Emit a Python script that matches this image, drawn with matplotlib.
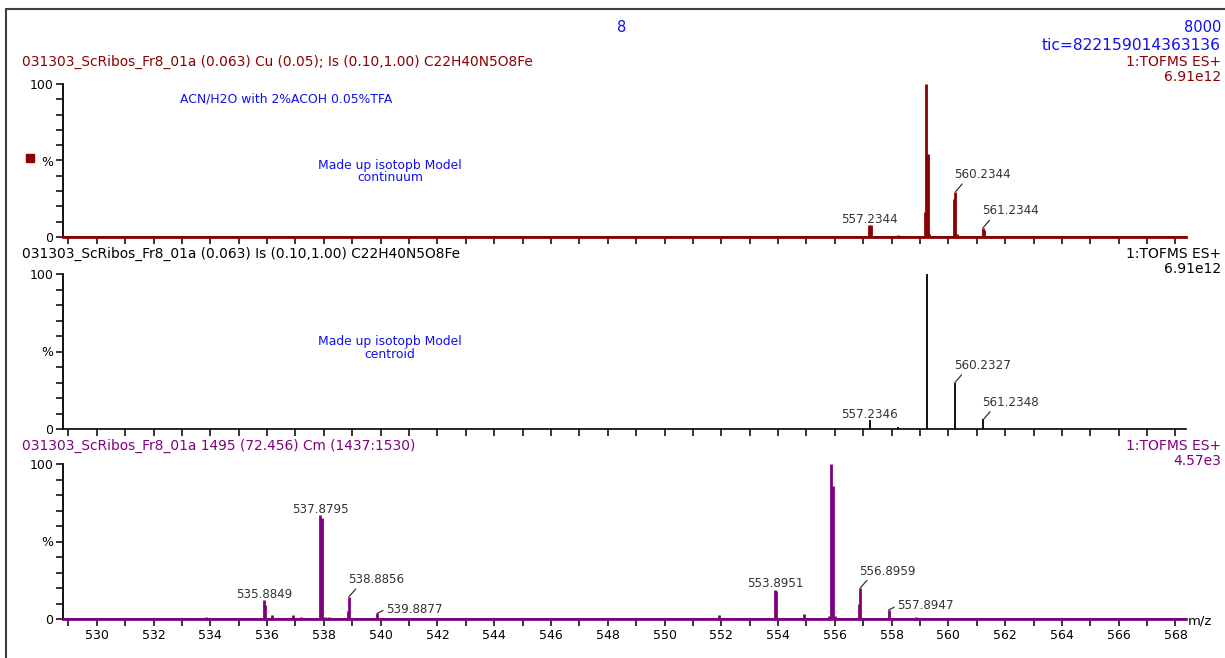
import matplotlib
matplotlib.use("Agg")
import matplotlib.pyplot as plt
from matplotlib.patches import Rectangle
from matplotlib.ticker import MultipleLocator

plt.rcParams["font.family"] = ["DejaVu Sans"]

# --- datos ---
# panel 1: modelo isotopico continuo
cont_mz = [557.21, 557.26, 558.24, 559.16, 559.22, 559.28, 559.33,
           560.19, 560.25, 560.31, 561.22, 561.27]
cont_int = [7.8, 7.8, 1.5, 16.5, 100, 54, 2, 25, 29.6, 2, 6, 4.5]
cont_lab = ["557.2344", "560.2344", "561.2344"]
cont_lab_mz = [557.235, 560.25, 561.22]
cont_lab_int = [7.8, 29.6, 6]

# panel 2: modelo centroide
cent_mz = [557.2346, 558.24, 559.2344, 560.2327, 561.2348]
cent_int = [6, 1, 100, 30, 6.2]
cent_lab = ["557.2346", "560.2327", "561.2348"]
cent_lab_mz = [557.2346, 560.2327, 561.2348]
cent_lab_int = [6, 30, 6.2]

# panel 3: espectro medido (scan 1495)
meas_mz = [533.83, 535.8849, 535.93, 536.17, 536.90, 537.21, 537.8795, 537.93,
           538.03, 538.17, 538.84, 538.8856, 539.8877, 551.92, 553.8951, 553.93,
           554.90, 555.80, 555.86, 555.92, 556.00, 556.86, 556.8959, 557.8947, 558.87]
meas_int = [1.5, 12.3, 9, 2.5, 2.5, 1.5, 67, 65,
            1, 1, 5, 14.4, 3.7, 2.5, 19, 18,
            3.5, 2, 100, 86, 2, 10, 20, 5.8, 1]
meas_lab = ["535.8849", "537.8795", "538.8856", "539.8877",
            "553.8951", "556.8959", "557.8947"]
meas_lab_mz = [535.8849, 537.8795, 538.8856, 539.8877, 553.8951, 556.8959, 557.8947]
meas_lab_int = [12.3, 67, 14.4, 3.7, 19, 20, 5.8]
meas_lab_kind = ["above", "above", "up", "right", "above", "up", "right"]

ROJO = "#8b0000"
MORADO = "#800080"
AZUL = "#1010ee"
GRIS = "#333333"

W, H = 1225, 658
fig = plt.figure(figsize=(W / 100, H / 100), dpi=100)


def fx(px):
    return px / W


def fy(py):
    return 1 - py / H


def preparar(ax, etiquetas_x):
    ax.set_xlim(528.81, 568.37)
    ax.set_ylim(0, 100)
    ax.spines["top"].set_visible(False)
    ax.spines["right"].set_visible(False)
    ax.spines["left"].set_linewidth(1.3)
    ax.spines["bottom"].set_linewidth(1.2)
    ax.xaxis.set_major_locator(MultipleLocator(2))
    ax.xaxis.set_minor_locator(MultipleLocator(1))
    ax.set_yticks([0, 50, 100], ["0", "%", "100"])
    ax.yaxis.set_minor_locator(MultipleLocator(10))
    ax.tick_params(which="both", direction="out", length=5, width=1.1,
                   labelsize=9, pad=2, colors="black")
    ax.tick_params(axis="x", labelbottom=etiquetas_x)
    ax.patch.set_alpha(0)


def etiqueta(ax, texto, x, y, tipo):
    flecha = dict(arrowstyle="-", color=GRIS, lw=0.9, shrinkA=0, shrinkB=0)
    if tipo == "above":
        ax.annotate(texto, (x, y), xytext=(0, 1.5), textcoords="offset points",
                    ha="center", va="baseline", fontsize=8.6, color=GRIS,
                    annotation_clip=False)
    elif tipo == "up":
        flecha["relpos"] = (0.18, 0)
        ax.annotate(texto, (x, y), xytext=(19.5, 7.5), textcoords="offset points",
                    ha="center", va="bottom", fontsize=8.6, color=GRIS,
                    arrowprops=flecha, annotation_clip=False)
    else:
        flecha["relpos"] = (0, 0.5)
        ax.annotate(texto, (x, y), xytext=(6, 3), textcoords="offset points",
                    ha="left", va="center", fontsize=8.6, color=GRIS,
                    arrowprops=flecha, annotation_clip=False)


left, width = fx(63), fx(1186) - fx(63)
ax1 = fig.add_axes([left, fy(237), width, fy(84) - fy(237)])
ax2 = fig.add_axes([left, fy(429), width, fy(274) - fy(429)])
ax3 = fig.add_axes([left, fy(619), width, fy(464) - fy(619)])

# panel 1
preparar(ax1, False)
ax1.axhline(0, color=ROJO, lw=2, zorder=3, clip_on=False)
ax1.vlines(cont_mz, 0, cont_int, colors=ROJO, lw=2, clip_on=False)
for t, x, y, k in zip(cont_lab, cont_lab_mz, cont_lab_int, ["above", "up", "up"]):
    etiqueta(ax1, t, x, y, k)

# panel 2
preparar(ax2, False)
ax2.vlines(cent_mz, 0, cent_int, colors="black", lw=1.3, clip_on=False)
for t, x, y, k in zip(cent_lab, cent_lab_mz, cent_lab_int, ["above", "up", "up"]):
    etiqueta(ax2, t, x, y, k)

# panel 3
preparar(ax3, True)
ax3.axhline(0, color=MORADO, lw=2, zorder=3, clip_on=False)
ax3.vlines(meas_mz, 0, meas_int, colors=MORADO, lw=2, clip_on=False)
for t, x, y, k in zip(meas_lab, meas_lab_mz, meas_lab_int, meas_lab_kind):
    etiqueta(ax3, t, x, y, k)

# textos de cabecera
fig.text(fx(622), fy(28), "8", color=AZUL, fontsize=10.5, ha="center", va="center")
fig.text(fx(1221), fy(28), "8000", color=AZUL, fontsize=10.5, ha="right", va="center")
fig.text(fx(1221), fy(45), "tic=822159014363136", color=AZUL, fontsize=11.2, ha="right", va="center")

titulos = [
    ("031303_ScRibos_Fr8_01a (0.063) Cu (0.05); Is (0.10,1.00) C22H40N5O8Fe", ROJO, 62, "6.91e12"),
    ("031303_ScRibos_Fr8_01a (0.063) Is (0.10,1.00) C22H40N5O8Fe", "black", 254, "6.91e12"),
    ("031303_ScRibos_Fr8_01a 1495 (72.456) Cm (1437:1530)", MORADO, 446, "4.57e3"),
]
for texto, color, y, escala in titulos:
    fig.text(fx(22), fy(y), texto, color=color, fontsize=9.9, ha="left", va="center")
    fig.text(fx(1221), fy(y), "1:TOFMS ES+", color=color, fontsize=10, ha="right", va="center")
    fig.text(fx(1221), fy(y + 15), escala, color=color, fontsize=10, ha="right", va="center")

fig.text(fx(180), fy(99), "ACN/H2O with 2%ACOH 0.05%TFA", color=AZUL, fontsize=8.9,
         ha="left", va="center")
fig.text(fx(390), fy(171), "Made up isotopb Model\ncontinuum", color=AZUL, fontsize=8.9,
         ha="center", va="center", linespacing=0.9)
fig.text(fx(390), fy(348), "Made up isotopb Model\ncentroid", color=AZUL, fontsize=8.9,
         ha="center", va="center", linespacing=0.9)
fig.text(fx(1188), fy(621), "m/z", color="black", fontsize=9.5, ha="left", va="center")

# marcador y marco exterior
fig.add_artist(Rectangle((fx(26), fy(162)), fx(8), fy(154) - fy(162),
                         transform=fig.transFigure, color=ROJO))
fig.add_artist(Rectangle((fx(6), fy(662)), fx(1232) - fx(6), fy(9) - fy(662),
                         transform=fig.transFigure, fill=False, edgecolor="#404040", lw=1.5))

fig.savefig("out.png", dpi=100)
